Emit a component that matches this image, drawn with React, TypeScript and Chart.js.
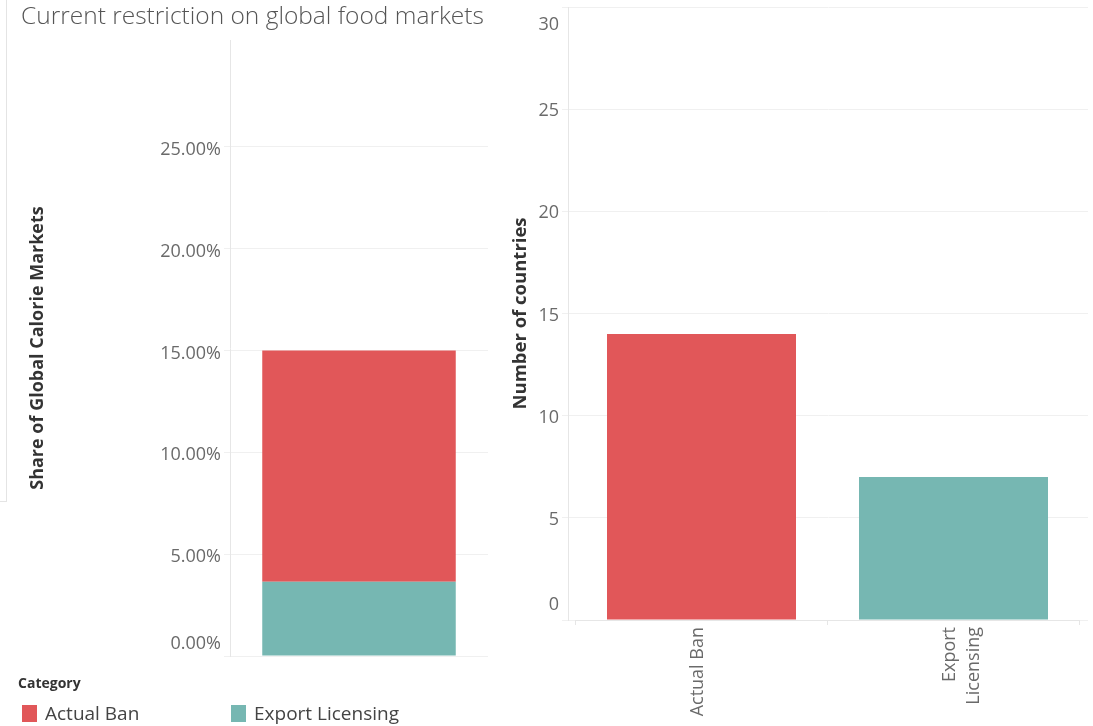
import React, { useEffect, useRef } from "react";
import { Chart, registerables } from "chart.js";

Chart.register(...registerables);

// ---- data ----
const chartTitle = "Current restriction on global food markets";
const legendTitle = "Category";
const categories = ["Actual Ban", "Export Licensing"];
const shareActualBan = [0.1135];
const shareExportLicensing = [0.0365];
const shareTicks = [0, 0.05, 0.1, 0.15, 0.2, 0.25];
const shareAxisMax = 0.3025;
const countryCounts = [14, 7];
const countryTickLabels = [["Actual Ban"], ["Export", "Licensing"]];
const countTicks = [0, 5, 10, 15, 20, 25, 30];
const leftAxisTitle = "Share of Global Calorie Markets";
const rightAxisTitle = "Number of countries";

// ---- styles ----
const RED = "#E15759";
const TEAL = "#76B7B2";
const FONT = "'Open Sans', 'Noto Sans', sans-serif";
const TICK_COLOR = "#6a6a6a";
const GRID = "#f0f0f0";
const AXIS = "#e6e6e6";

// Insets the category band of the right chart inside its plot area
const xInsetPlugin = {
  id: "xInset",
  afterLayout(chart: any) {
    const s = chart.scales.x;
    const a = chart.chartArea;
    s.left = a.left + 7.5;
    s.right = a.right - 8.5;
    s.width = s.right - s.left;
    s.configure();
  },
};

export default function App() {
  const leftRef = useRef<HTMLCanvasElement>(null);
  const rightRef = useRef<HTMLCanvasElement>(null);

  useEffect(() => {
    document.body.style.margin = "0";
    const left = new Chart(leftRef.current as HTMLCanvasElement, {
      type: "bar",
      data: {
        labels: ["Share"],
        datasets: [
          {
            label: categories[1],
            data: shareExportLicensing,
            backgroundColor: TEAL,
            barPercentage: 0.75,
            categoryPercentage: 1,
          },
          {
            label: categories[0],
            data: shareActualBan,
            backgroundColor: RED,
            barPercentage: 0.75,
            categoryPercentage: 1,
          },
        ],
      },
      options: {
        animation: false,
        responsive: false,
        maintainAspectRatio: false,
        layout: { padding: { top: 40, bottom: 25, left: 0, right: 12 } },
        plugins: { legend: { display: false }, tooltip: { enabled: false } },
        scales: {
          x: { display: false, stacked: true },
          y: {
            stacked: true,
            min: 0,
            max: shareAxisMax,
            afterBuildTicks: (s: any) => {
              s.ticks = shareTicks.map((v) => ({ value: v }));
            },
            afterFit: (s: any) => {
              s.width = 230;
              s.paddingTop = 0;
              s.paddingBottom = 0;
            },
            grid: { color: GRID, tickLength: 6, drawTicks: true },
            border: { color: AXIS },
            ticks: {
              padding: 3,
              labelOffset: 3,
              color: TICK_COLOR,
              font: (ctx: any) => ({
                family: FONT,
                size: 18,
                lineHeight: ctx.tick && ctx.tick.value === 0 ? "30px" : 1.2,
              }),
              callback: (v: any) => {
                const s = (Number(v) * 100).toFixed(2) + "%";
                return Number(v) === 0 ? [s, ""] : s;
              },
            },
            title: {
              display: true,
              text: leftAxisTitle,
              color: "#333",
              font: { family: FONT, size: 18, weight: "bold" },
              padding: { top: 27, bottom: 0 },
            },
          },
        },
      },
    } as any);

    const right = new Chart(rightRef.current as HTMLCanvasElement, {
      type: "bar",
      data: {
        labels: countryTickLabels,
        datasets: [
          {
            label: rightAxisTitle,
            data: countryCounts,
            backgroundColor: [RED, TEAL],
            barPercentage: 0.75,
            categoryPercentage: 1,
          },
        ],
      },
      plugins: [xInsetPlugin],
      options: {
        animation: false,
        responsive: false,
        maintainAspectRatio: false,
        layout: { padding: { top: 7, bottom: 0, left: 0, right: 5 } },
        plugins: { legend: { display: false }, tooltip: { enabled: false } },
        scales: {
          x: {
            afterFit: (s: any) => {
              s.height = 106;
              s.paddingLeft = 0;
              s.paddingRight = 0;
            },
            grid: {
              offset: true,
              drawOnChartArea: false,
              drawTicks: true,
              tickLength: 5,
              color: AXIS,
            },
            border: { color: AXIS },
            ticks: {
              minRotation: 90,
              maxRotation: 90,
              padding: 2,
              labelOffset: -4,
              color: TICK_COLOR,
              font: { family: FONT, size: 18, lineHeight: "24px" },
            },
          },
          y: {
            min: 0,
            max: 30,
            afterBuildTicks: (s: any) => {
              s.ticks = countTicks.map((v) => ({ value: v }));
            },
            afterFit: (s: any) => {
              s.width = 68;
              s.paddingTop = 0;
              s.paddingBottom = 0;
            },
            grid: { color: GRID, tickLength: 6, drawTicks: true },
            border: { color: AXIS },
            ticks: {
              padding: 3,
              labelOffset: 2,
              color: TICK_COLOR,
              font: (ctx: any) => {
                const v = ctx.tick ? ctx.tick.value : -1;
                return {
                  family: FONT,
                  size: 18,
                  lineHeight: v === 0 ? "34px" : v === 30 ? "32px" : 1.2,
                };
              },
              callback: (v: any) => {
                const n = Number(v);
                if (n === 0) return [String(n), ""];
                if (n === 30) return ["", String(n)];
                return String(n);
              },
            },
            title: {
              display: true,
              text: rightAxisTitle,
              color: "#333",
              font: { family: FONT, size: 18.5, weight: "bold" },
              padding: { top: 10, bottom: 0 },
            },
          },
        },
      },
    } as any);

    return () => {
      left.destroy();
      right.destroy();
    };
  }, []);

  return (
    <div
      style={{
        position: "fixed",
        left: 0,
        top: 0,
        width: 1093,
        height: 726,
        background: "#fff",
        overflow: "hidden",
        fontFamily: FONT,
      }}
    >
      <div
        style={{
          position: "absolute",
          left: 6,
          top: 0,
          width: 0,
          height: 501,
          borderLeft: "1px solid #e4e4e4",
        }}
      />
      <div
        style={{
          position: "absolute",
          left: 0,
          top: 501,
          width: 7,
          height: 0,
          borderTop: "1px solid #e4e4e4",
        }}
      />
      <canvas
        ref={leftRef}
        width={500}
        height={681}
        style={{ position: "absolute", left: 0, top: 0, width: 500, height: 681 }}
      />
      <canvas
        ref={rightRef}
        width={593}
        height={726}
        style={{ position: "absolute", left: 500, top: 0, width: 593, height: 726 }}
      />
      <div
        style={{
          position: "absolute",
          left: 21,
          top: 0,
          fontSize: 24.5,
          lineHeight: "30px",
          fontWeight: 300,
          color: "#555",
          whiteSpace: "nowrap",
          background: "#fff",
        }}
      >
        {chartTitle}
      </div>
      <div
        style={{
          position: "absolute",
          left: 18,
          top: 673,
          fontSize: 14,
          lineHeight: "20px",
          fontWeight: 700,
          color: "#333",
        }}
      >
        {legendTitle}
      </div>
      {[categories[0], categories[1]].map((c, i) => (
        <div
          key={c}
          style={{
            position: "absolute",
            left: i === 0 ? 22 : 231,
            top: 701,
            height: 24,
            display: "flex",
            alignItems: "center",
            whiteSpace: "nowrap",
          }}
        >
          <span
            style={{
              display: "inline-block",
              width: 15,
              height: 17,
              background: i === 0 ? RED : TEAL,
              marginRight: 8,
            }}
          />
          <span style={{ fontSize: 19, color: "#444", lineHeight: "24px" }}>{c}</span>
        </div>
      ))}
    </div>
  );
}
